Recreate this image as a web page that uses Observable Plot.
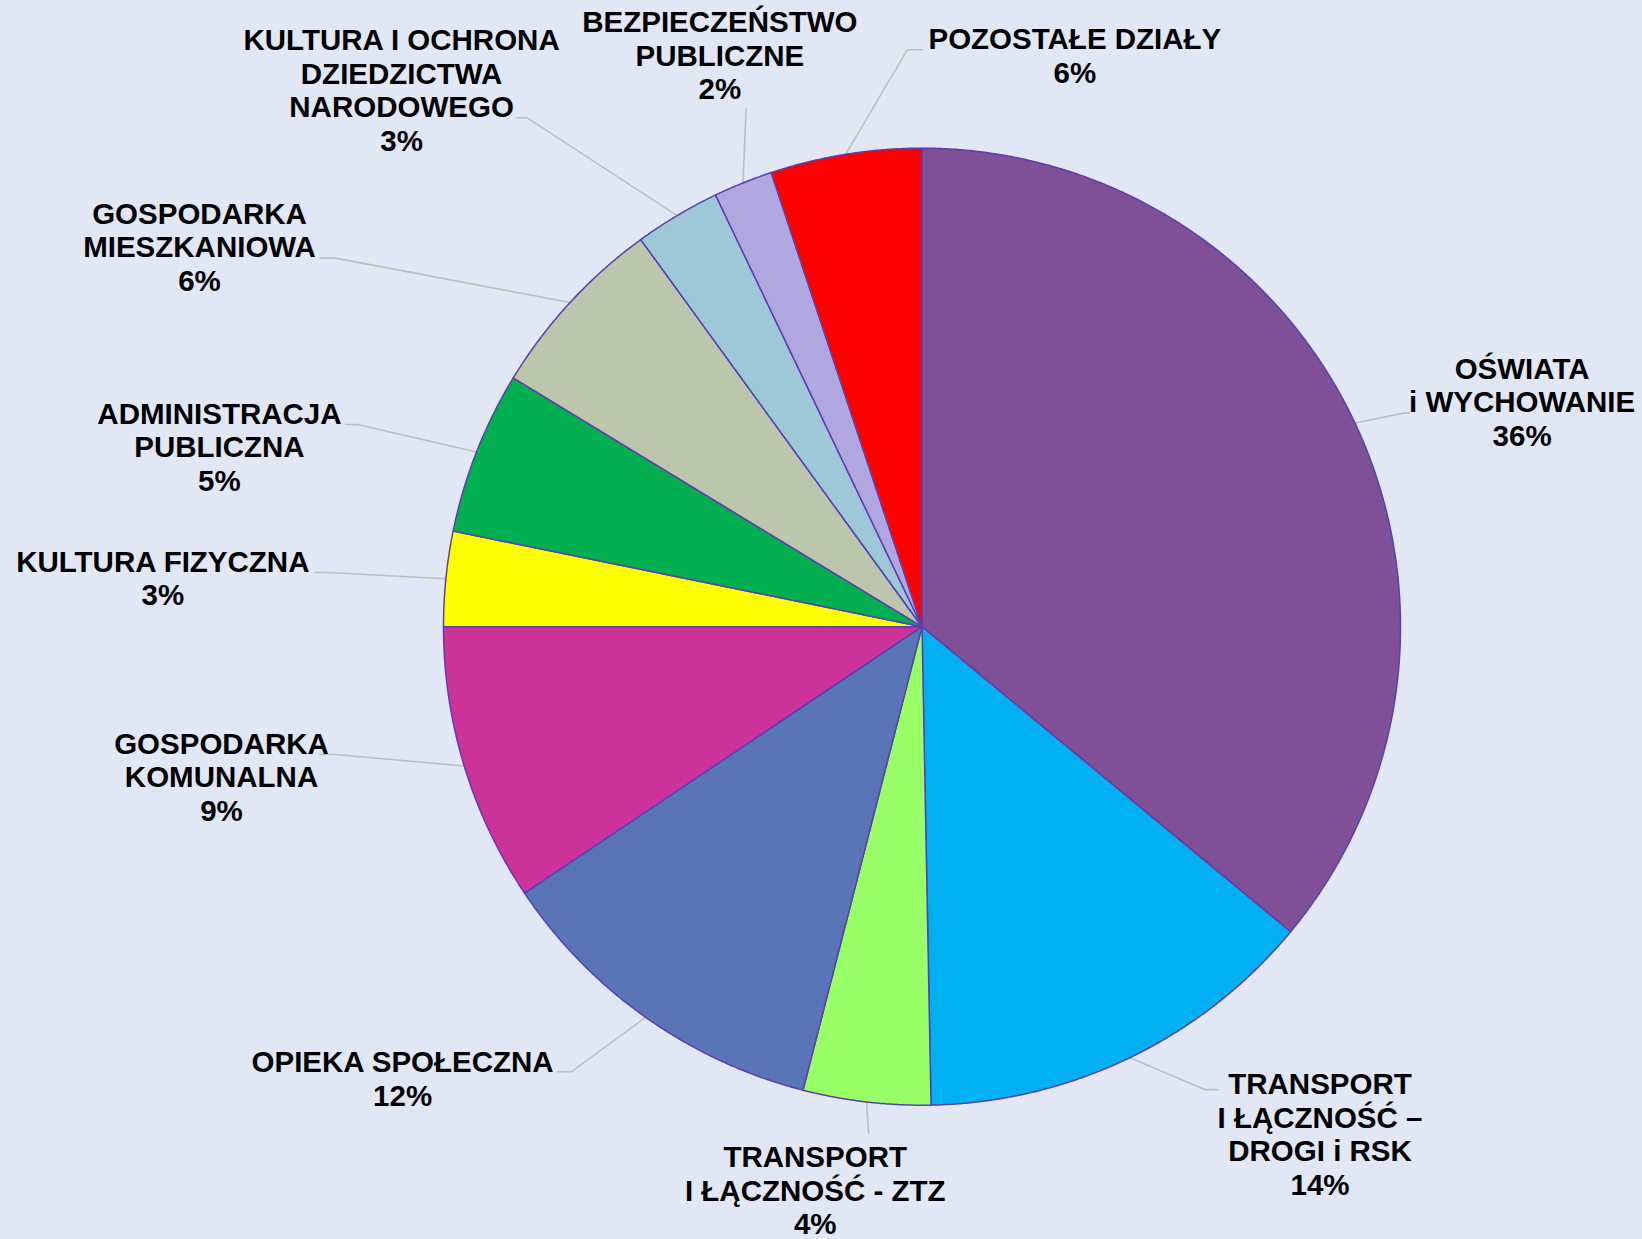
<!DOCTYPE html>
<html><head><meta charset="utf-8">
<script src="https://cdn.jsdelivr.net/npm/d3@7"></script>
<script src="https://cdn.jsdelivr.net/npm/@observablehq/plot@0.6"></script>
<style>
html,body{margin:0;padding:0;background:#E1E7F5;}
#chart svg{display:block;}
</style></head><body><div id="chart"></div>
<script>
// ---- data ----
const categories = [
  "OŚWIATA\ni WYCHOWANIE",
  "TRANSPORT\nI ŁĄCZNOŚĆ –\nDROGI i RSK",
  "TRANSPORT\nI ŁĄCZNOŚĆ - ZTZ",
  "OPIEKA SPOŁECZNA",
  "GOSPODARKA\nKOMUNALNA",
  "KULTURA FIZYCZNA",
  "ADMINISTRACJA\nPUBLICZNA",
  "GOSPODARKA\nMIESZKANIOWA",
  "KULTURA I OCHRONA\nDZIEDZICTWA\nNARODOWEGO",
  "BEZPIECZEŃSTWO\nPUBLICZNE",
  "POZOSTAŁE DZIAŁY"
];
const values = [36.0, 13.7, 4.3, 11.6, 9.4, 3.2, 5.5, 6.3, 2.9, 2.0, 5.1];
const pctLabels = ["36%", "14%", "4%", "12%", "9%", "3%", "5%", "6%", "3%", "2%", "6%"];

// ---- style / layout ----
const colors = ["#7F4F97", "#00B0F0", "#99FF66", "#5A75B7", "#CC3399", "#FFFF00",
                "#00B050", "#BBC6AC", "#9EC7D8", "#B1A7E0", "#FF0000"];
const labelAt = [[1.2541, 0.5360], [0.8318, -0.9586], [-0.2232, -1.1118], [-1.0855, -0.9126],
                 [-1.4639, -0.2474], [-1.5866, 0.1335], [-1.4683, 0.4420], [-1.5099, 0.8600],
                 [-1.0876, 1.2234], [-0.4224, 1.2606], [0.3195, 1.2255]];
const elbowAt = [[1.0067, 0.4464], [0.5910, -0.9674], [-0.1116, -1.0591], [-0.7331, -0.9302],
                 [-1.2255, -0.2671], [-1.2424, 0.1133], [-1.1797, 0.4226], [-1.2255, 0.7703],
                 [-0.8251, 1.0635], [-0.3676, 1.0832], [-0.0305, 1.2059]];
const tailLen = [0.012, 0.027, 0, -0.029, -0.033, -0.027, -0.025, -0.033, -0.023, 0, 0.031];

const W = 1642, H = 1239, CX = 921.5, CY = 626.2, R = 478.5;

// ---- geometry from data ----
const arcs = d3.pie().sort(null).value(d => d)(values);
const slicePts = [];
arcs.forEach((a, i) => {
  const name = categories[i];
  slicePts.push({name, u: 0, v: 0});
  const n = Math.max(2, Math.ceil((a.endAngle - a.startAngle) / (Math.PI / 720)));
  for (let k = 0; k <= n; k++) {
    const t = a.startAngle + (a.endAngle - a.startAngle) * k / n;
    slicePts.push({name, u: Math.sin(t), v: Math.cos(t)});
  }
});
const leaderPts = [];
arcs.forEach((a, i) => {
  const m = (a.startAngle + a.endAngle) / 2;
  const name = categories[i];
  leaderPts.push({name, u: Math.sin(m), v: Math.cos(m)});
  leaderPts.push({name, u: elbowAt[i][0], v: elbowAt[i][1]});
  leaderPts.push({name, u: elbowAt[i][0] + tailLen[i], v: elbowAt[i][1]});
});
const labels = categories.map((c, i) => ({text: c + "\n" + pctLabels[i], u: labelAt[i][0], v: labelAt[i][1]}));

const chart = Plot.plot({
  width: W, height: H,
  marginTop: 0, marginRight: 0, marginBottom: 0, marginLeft: 0,
  style: {background: "#E1E7F5"},
  x: {domain: [-CX / R, (W - CX) / R], range: [0, W], axis: null},
  y: {domain: [-(H - CY) / R, CY / R], range: [H, 0], axis: null},
  color: {domain: categories, range: colors},
  marks: [
    Plot.line(leaderPts, {x: "u", y: "v", z: "name", stroke: "#BEBEBE", strokeWidth: 1.6}),
    Plot.line(slicePts, {x: "u", y: "v", z: "name", fill: "name", stroke: "#5B3FAE",
      strokeWidth: 1.5, strokeLinejoin: "round", curve: "linear-closed"}),
    Plot.text(labels, {x: "u", y: "v", text: "text", lineAnchor: "top", lineHeight: 1.135, dy: -15,
      fontSize: 29.5, fontWeight: "bold", fontFamily: "Liberation Sans, Arial, sans-serif", fill: "#000"})
  ]
});
document.getElementById("chart").appendChild(chart);
</script>
</body></html>
